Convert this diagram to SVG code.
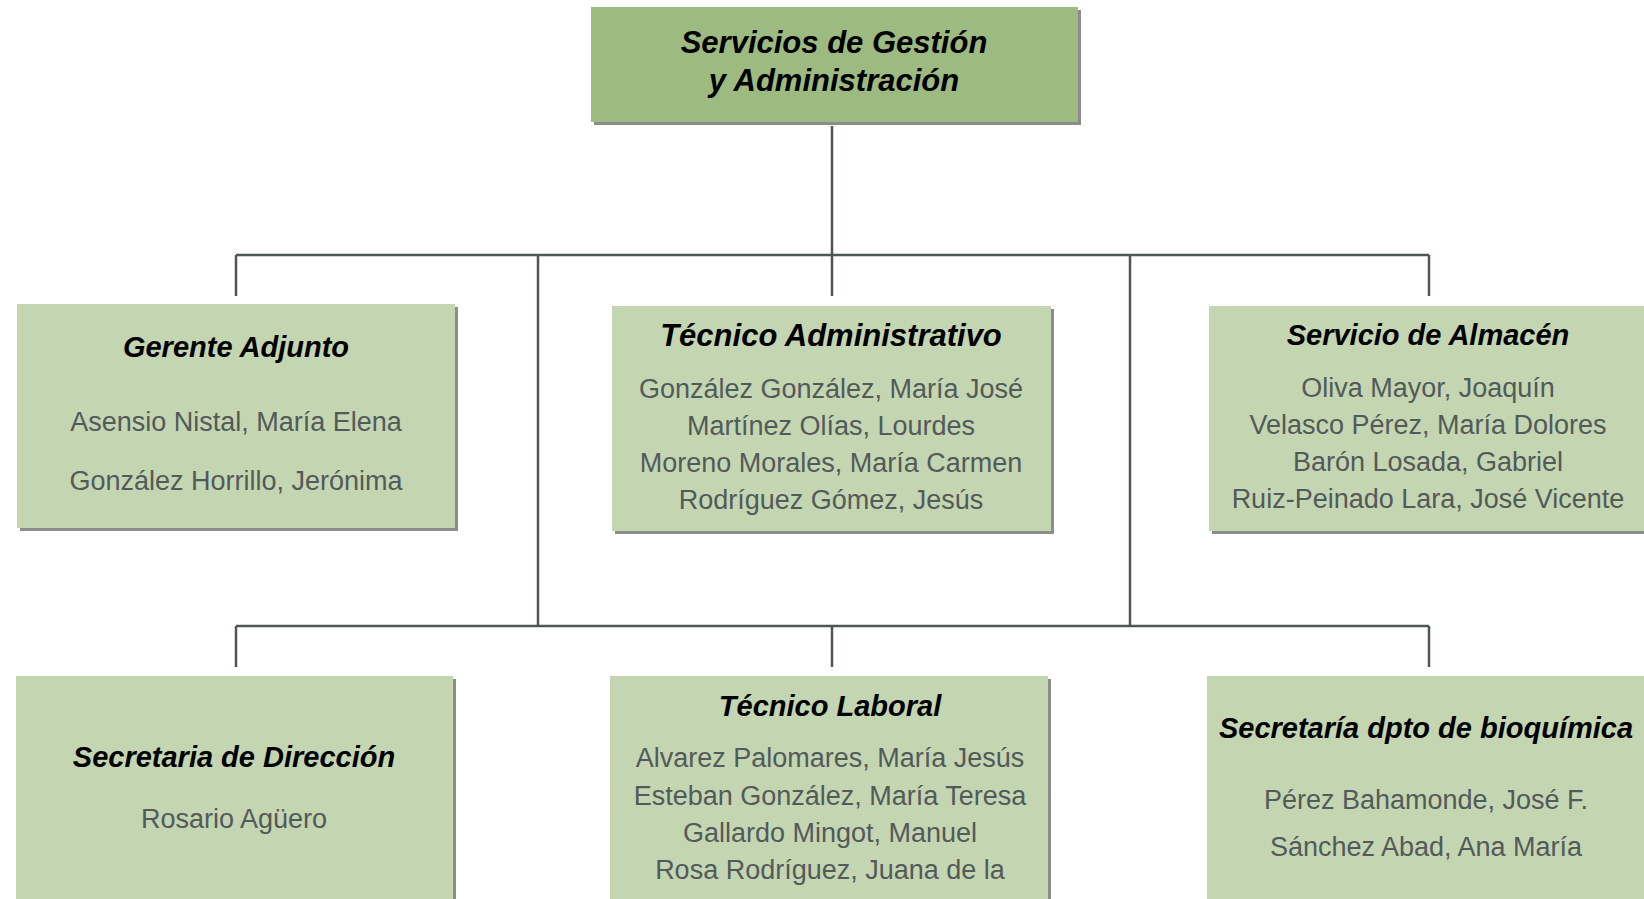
<svg xmlns="http://www.w3.org/2000/svg" width="1644" height="899" viewBox="0 0 1644 899">
<style>
.box{fill:#c4d5b1}
.top{fill:#9dba80}
.sh{fill:#8c8c8c}
.ln{stroke:#4f5656;stroke-width:2.5;fill:none}
.t{font-family:"Liberation Sans",Arial,sans-serif;font-weight:bold;font-style:italic;font-size:29px;fill:#000;text-anchor:middle}
.tt{font-size:31px}
.n{font-family:"Liberation Sans",Arial,sans-serif;font-size:27px;fill:#525a5a;text-anchor:middle}
</style>
<rect width="1644" height="899" fill="#fff"/>
<g id="connectors">
<path class="ln" d="M832 126V255M236 255H1429M236 255V296M832 255V296M1429 255V296"/>
<path class="ln" d="M538 255V626M1130 255V626"/>
<path class="ln" d="M236 626H1429M236 626V667M832 626V667M1429 626V667"/>
</g>
<g id="n-top">
<rect class="sh" x="594" y="10" width="487" height="115"/>
<rect class="top" x="591" y="7" width="487" height="115"/>
<text class="t tt" x="834" y="53">Servicios de Gestión</text>
<text class="t tt" x="834" y="91">y Administración</text>
</g>
<g id="n-gerente">
<rect class="sh" x="20" y="307" width="438" height="224"/>
<rect class="box" x="17" y="304" width="438" height="224"/>
<text class="t" x="236" y="357">Gerente Adjunto</text>
<text class="n" x="236" y="431">Asensio Nistal, María Elena</text>
<text class="n" x="236" y="490">González Horrillo, Jerónima</text>
</g>
<g id="n-tecadm">
<rect class="sh" x="615" y="309" width="439" height="225"/>
<rect class="box" x="612" y="306" width="439" height="225"/>
<text class="t tt" x="831" y="346">Técnico Administrativo</text>
<text class="n" x="831" y="398">González González, María José</text>
<text class="n" x="831" y="435">Martínez Olías, Lourdes</text>
<text class="n" x="831" y="472">Moreno Morales, María Carmen</text>
<text class="n" x="831" y="509">Rodríguez Gómez, Jesús</text>
</g>
<g id="n-almacen">
<rect class="sh" x="1212" y="309" width="440" height="225"/>
<rect class="box" x="1209" y="306" width="440" height="225"/>
<text class="t" x="1428" y="345">Servicio de Almacén</text>
<text class="n" x="1428" y="397">Oliva Mayor, Joaquín</text>
<text class="n" x="1428" y="434">Velasco Pérez, María Dolores</text>
<text class="n" x="1428" y="471">Barón Losada, Gabriel</text>
<text class="n" x="1428" y="508">Ruiz-Peinado Lara, José Vicente</text>
</g>
<g id="n-secdir">
<rect class="sh" x="19" y="679" width="437" height="230"/>
<rect class="box" x="16" y="676" width="437" height="230"/>
<text class="t" x="234" y="767">Secretaria de Dirección</text>
<text class="n" x="234" y="828">Rosario Agüero</text>
</g>
<g id="n-teclab">
<rect class="sh" x="613" y="679" width="438" height="230"/>
<rect class="box" x="610" y="676" width="438" height="230"/>
<text class="t" x="830" y="716">Técnico Laboral</text>
<text class="n" x="830" y="767">Alvarez Palomares, María Jesús</text>
<text class="n" x="830" y="805">Esteban González, María Teresa</text>
<text class="n" x="830" y="842">Gallardo Mingot, Manuel</text>
<text class="n" x="830" y="879">Rosa Rodríguez, Juana de la</text>
</g>
<g id="n-secbio">
<rect class="sh" x="1210" y="679" width="440" height="230"/>
<rect class="box" x="1207" y="676" width="440" height="230"/>
<text class="t" x="1426" y="738">Secretaría dpto de bioquímica</text>
<text class="n" x="1426" y="809">Pérez Bahamonde, José F.</text>
<text class="n" x="1426" y="856">Sánchez Abad, Ana María</text>
</g>
</svg>
